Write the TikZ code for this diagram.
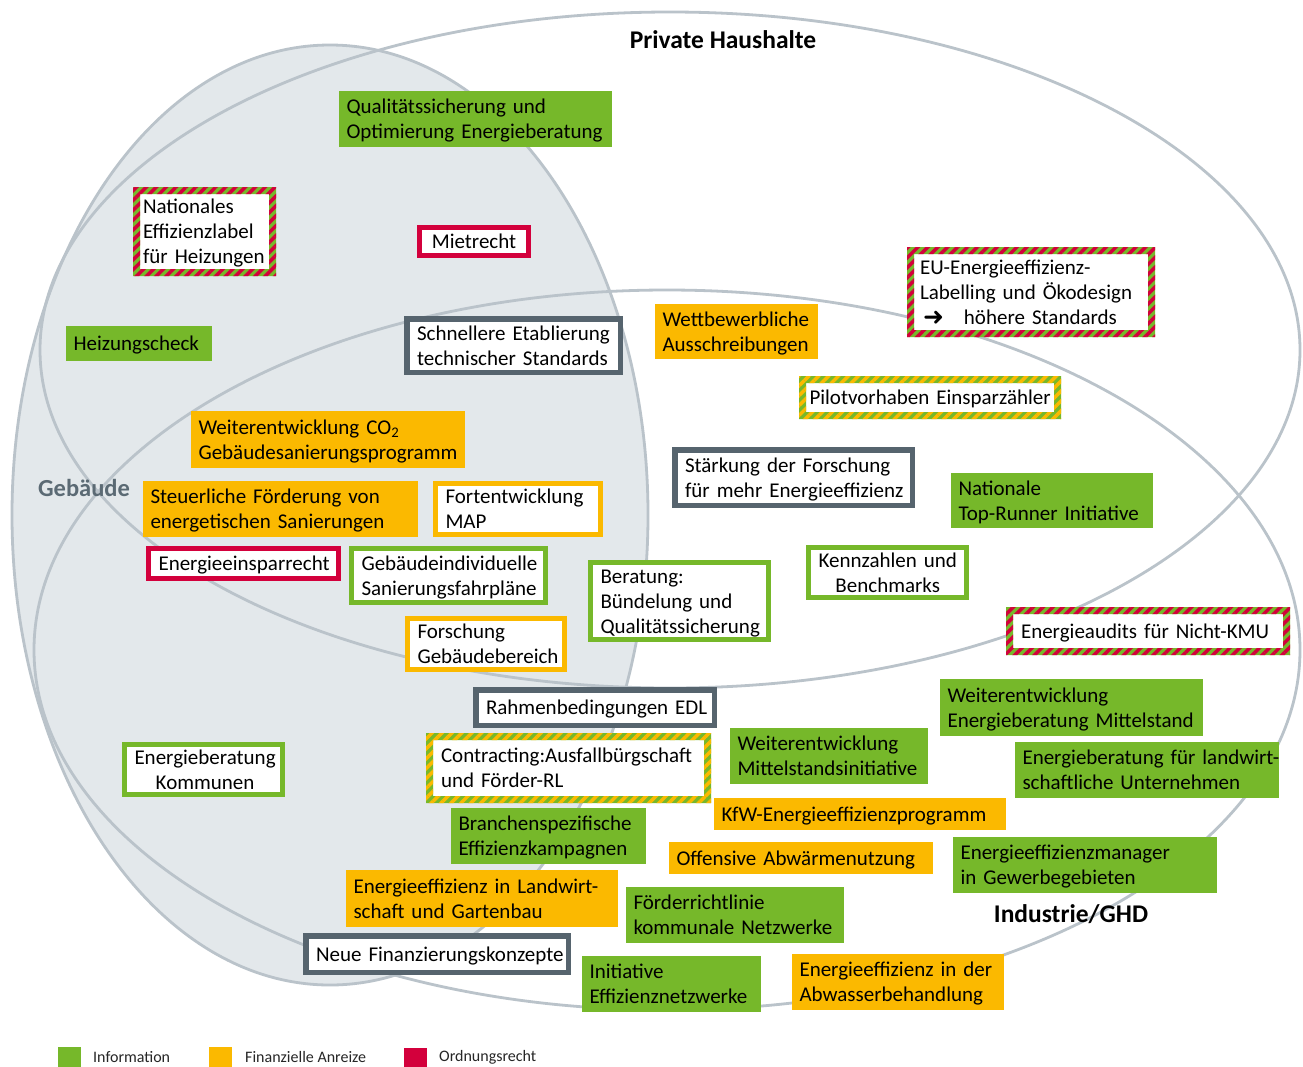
\documentclass[tikz,border=0pt]{standalone}
\usepackage{fontspec}
\setmainfont{Carlito}
\newfontfamily\dejavu{DejaVu Sans}
\usetikzlibrary{patterns.meta,calc}
\definecolor{igreen}{HTML}{76B82A}
\definecolor{iorange}{HTML}{FBB900}
\definecolor{ired}{HTML}{D3003C}
\definecolor{islate}{HTML}{56646E}
\definecolor{ifill}{HTML}{E3E8EB}
\definecolor{iline}{HTML}{BAC3CA}
\definecolor{ilabel}{HTML}{5B6A74}
\newcommand\bxpad{7.5}
% #1 name #2 style #3 border width #4 x1 #5 y1 #6 x2 #7 y2 #8 text #9 column (l/c)
\newcommand\bx[9]{%
 \pgfmathsetmacro\bxW{#6-#4-#3}%
 \pgfmathsetmacro\bxH{#7-#5-#3}%
 \pgfmathsetmacro\bxX{(#4+#6)/2}%
 \pgfmathsetmacro\bxY{(#5+#7)/2}%
 \pgfmathsetmacro\bxS{#3/2+\bxpad}%
 \pgfmathsetmacro\bxT{\bxW-2*\bxS}%
 \node[boxbase, line width=#3pt, minimum width=\bxW pt, minimum height=\bxH pt,
   inner xsep=\bxS pt, text width=\bxT pt, #2] (#1) at (\bxX,\bxY)
   {\raisebox{-2pt}[\height][\depth]{\begin{tabular}{@{}#9@{}}#8\end{tabular}}};}
% striped frame round a node: #1 name #2 base colour #3 stripe colour
\newcommand\sframe[3]{%
 \fill[#2, even odd rule] ($(#1.south west)+(-7,7)$) rectangle ($(#1.north east)+(7,-7)$)
   (#1.south west) rectangle (#1.north east);
 \fill[pattern={Lines[angle=45,distance=7pt,line width=3.5pt]}, pattern color=#3, even odd rule]
   ($(#1.south west)+(-7,7)$) rectangle ($(#1.north east)+(7,-7)$)
   (#1.south west) rectangle (#1.north east);}
\begin{document}
\begin{tikzpicture}[x=1pt,y=-1pt,
  boxbase/.style={inner ysep=0pt, align=left, text=black, font=\fontsize{21}{25}\selectfont},
  gfill/.style={fill=igreen},
  ofill/.style={fill=iorange},
  gbox/.style={fill=white, draw=igreen},
  obox/.style={fill=white, draw=iorange},
  rbox/.style={fill=white, draw=ired},
  sbox/.style={fill=white, draw=islate},
  wbox/.style={fill=white},
  ring/.style={draw=iline, line width=2.8pt},
  head/.style={font=\fontsize{25.5}{30}\bfseries\selectfont, inner sep=0pt},
  legtext/.style={anchor=base west, inner sep=0pt, font=\fontsize{16}{18}\selectfont, text=black!85},
  legsq/.style={anchor=north west, inner sep=0pt, minimum width=23pt, minimum height=25pt}]
\useasboundingbox (0,0) rectangle (1303,1066);
\clip (0,0) rectangle (1303,1066);
\fill[white] (0,0) rectangle (1303,1066);
% sets
\fill[ifill] (330,515) ellipse [x radius=318, y radius=470];
\draw[ring] (330,515) ellipse [x radius=318, y radius=470];
\draw[ring] (670,350) ellipse [x radius=630, y radius=338];
\draw[ring] (667,650) ellipse [x radius=633, y radius=360];
% labels of sets
\node[head] (ph) at (723,40) {Private Haushalte};
\node[head, text=ilabel, font=\fontsize{24.5}{29}\bfseries\selectfont] (geb) at (84,488) {Gebäude};
\node[head] (ind) at (1071,914) {Industrie/GHD};
% boxes
\bx{q1}{gfill}{0}{339}{91}{612}{147}{Qualitätssicherung und\\Optimierung Energieberatung}{l}
\renewcommand\bxpad{3}
\bx{nat}{wbox}{0}{140}{195}{269}{268}{Nationales\\Effizienzlabel\\für Heizungen}{l}
\renewcommand\bxpad{7.5}
\bx{miet}{rbox,align=center}{5}{417}{225}{531}{258}{Mietrecht}{c}
\bx{heiz}{gfill}{0}{66}{326}{212}{361}{Heizungscheck}{l}
\bx{schn}{sbox}{5.5}{404}{316}{623}{375}{Schnellere Etablierung\\technischer Standards}{l}
\bx{wett}{ofill}{0}{655}{304}{818}{359}{Wettbewerbliche\\Ausschreibungen}{l}
\renewcommand\bxpad{6}
\bx{eu}{wbox}{0}{914}{254}{1148}{330}{EU-Energieeffizienz-\\Labelling und Ökodesign\\\hspace*{3pt}{\dejavu\fontsize{25}{25}\selectfont\raisebox{-1pt}{➜}}\hspace{20pt}höhere Standards}{l}
\renewcommand\bxpad{3.5}
\bx{pilot}{wbox}{0}{806}{383}{1054}{412}{Pilotvorhaben Einsparzähler}{l}
\renewcommand\bxpad{7.5}
\bx{co2}{ofill}{0}{191}{411}{465}{468}{Weiterentwicklung CO\textsubscript{2}\\Gebäudesanierungsprogramm}{l}
\bx{staerk}{sbox}{5.5}{672}{447}{915}{508}{Stärkung der Forschung\\für mehr Energieeffizienz}{l}
\bx{topr}{gfill}{0}{951}{473}{1153}{528}{Nationale\\Top-Runner Initiative}{l}
\bx{steu}{ofill}{0}{143}{481}{418}{537}{Steuerliche Förderung von\\energetischen Sanierungen}{l}
\bx{map}{obox}{5}{433}{481}{603}{537}{Fortentwicklung\\MAP}{l}
\bx{eins}{rbox}{5}{146}{546}{341}{581}{Energieeinsparrecht}{l}
\bx{fahr}{gbox}{5}{349}{546}{548}{605}{Gebäudeindividuelle\\Sanierungsfahrpläne}{l}
\bx{ber}{gbox}{5}{588}{560}{771}{642}{Beratung:\\Bündelung und\\Qualitätssicherung}{l}
\bx{kenn}{gbox,align=center}{5}{806}{545}{969}{600}{Kennzahlen und\\Benchmarks}{c}
\renewcommand\bxpad{8}
\bx{audit}{wbox}{0}{1013}{614}{1283}{648}{Energieaudits für Nicht-KMU}{l}
\renewcommand\bxpad{7.5}
\bx{fgeb}{obox}{5}{405}{616}{567}{672}{Forschung\\Gebäudebereich}{l}
\bx{edl}{sbox,align=center}{5.5}{473}{687}{717}{728}{Rahmenbedingungen EDL}{c}
\bx{mitt}{gfill}{0}{940}{679}{1203}{736}{Weiterentwicklung\\Energieberatung Mittelstand}{l}
\bx{komm}{gbox,align=center}{5}{122}{742}{285}{797}{Energieberatung\\Kommunen}{c}
\renewcommand\bxpad{8}
\bx{contr}{wbox}{0}{433}{740}{704}{796}{Contracting:Ausfallbürgschaft\\und Förder-RL}{l}
\renewcommand\bxpad{7.5}
\bx{minit}{gfill}{0}{730}{728}{928}{784}{Weiterentwicklung\\Mittelstandsinitiative}{l}
\bx{landw}{gfill}{0}{1015}{742}{1279}{798}{Energieberatung für landwirt-\\schaftliche Unternehmen}{l}
\bx{kfw}{ofill}{0}{714}{798}{1006}{830}{KfW-Energieeffizienzprogramm}{l}
\bx{bran}{gfill}{0}{451}{808}{646}{864}{Branchenspezifische\\Effizienzkampagnen}{l}
\bx{abw}{ofill}{0}{669}{842}{933}{874}{Offensive Abwärmenutzung}{l}
\bx{gew}{gfill}{0}{953}{837}{1217}{893}{Energieeffizienzmanager\\in Gewerbegebieten}{l}
\bx{garten}{ofill}{0}{346}{870}{618}{927}{Energieeffizienz in Landwirt-\\schaft und Gartenbau}{l}
\bx{netzk}{gfill}{0}{626}{887}{844}{943}{Förderrichtlinie\\kommunale Netzwerke}{l}
\bx{finanz}{sbox,align=center}{5.5}{303}{933}{571}{975}{Neue Finanzierungskonzepte}{c}
\bx{inet}{gfill}{0}{582}{956}{761}{1012}{Initiative\\Effizienznetzwerke}{l}
\bx{abwas}{ofill}{0}{792}{954}{1004}{1010}{Energieeffizienz in der\\Abwasserbehandlung}{l}
% striped frames
\sframe{nat}{igreen}{ired}
\sframe{eu}{igreen}{ired}
\sframe{audit}{igreen}{ired}
\sframe{pilot}{igreen}{iorange}
\sframe{contr}{igreen}{iorange}
% legend
\node[legsq, fill=igreen] (lgI) at (58,1047) {};
\node[legtext] (ltI) at (93,1062) {Information};
\node[legsq, fill=iorange] (lgF) at (209,1047) {};
\node[legtext] (ltF) at (245,1062) {Finanzielle Anreize};
\node[legsq, fill=ired] (lgO) at (404,1048) {};
\node[legtext] (ltO) at (439,1061) {Ordnungsrecht};
\end{tikzpicture}
\end{document}
